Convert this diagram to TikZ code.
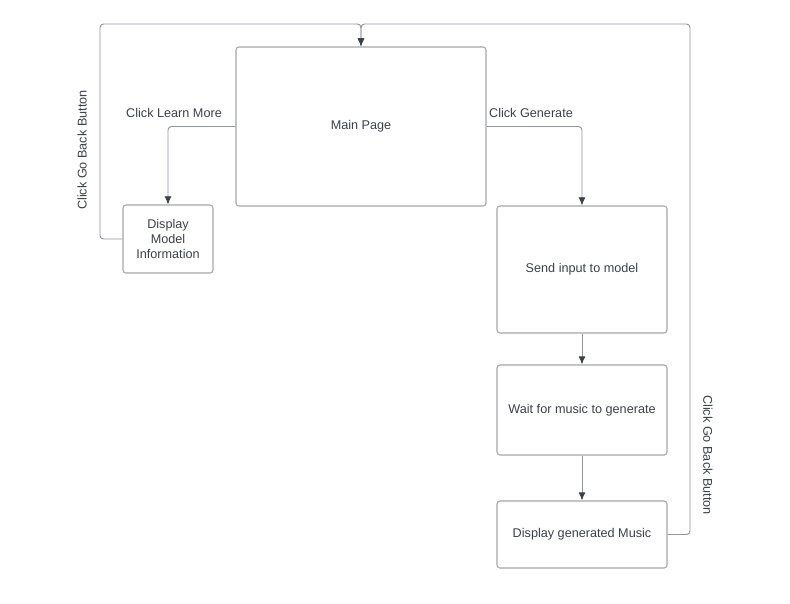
\documentclass[tikz,border=0pt]{standalone}
\usepackage{fontspec}
\setmainfont{Liberation Sans}
\usetikzlibrary{arrows.meta}
\definecolor{ink}{HTML}{3A404B}
\definecolor{edge}{HTML}{A3A6AB}
\definecolor{wire}{HTML}{8F949B}
\definecolor{tip}{HTML}{3A404B}
\tikzset{
  box/.style={draw=edge, line width=0.9pt, rounded corners=2.5pt, text=ink, align=center, font=\fontsize{10.8}{12.9}\selectfont},
  conn/.style={draw=wire, line width=0.8pt, rounded corners=3pt, -{Latex[length=7pt,width=6pt,color=tip]}},
  lab/.style={text=ink, font=\fontsize{10.8}{12.9}\selectfont},
}

\begin{document}
\begin{tikzpicture}[x=0.03cm, y=-0.03cm]
  \useasboundingbox (0,0) rectangle (790,603);
  % boxes
  \node[box, minimum width=7.5cm, minimum height=4.77cm] (main) at (361,126.5) {Main Page};
  \node[box, minimum width=2.7cm, minimum height=2.04cm] (info) at (168,239) {Display\\Model\\Information};
  \node[box, minimum width=5.1cm, minimum height=3.81cm] (send) at (582,269.5) {Send input to model};
  \node[box, minimum width=5.1cm, minimum height=2.7cm] (wait) at (582,410) {Wait for music to generate};
  \node[box, minimum width=5.1cm, minimum height=2.01cm] (music) at (582,534.5) {Display generated Music};
  % corners of the back loops
  \coordinate (backL) at (100,24);
  \coordinate (backR) at (690,24);
  % connectors
  \draw[conn] (main.west) -| (info.north);
  \draw[conn] (main.east) -| (send.north);
  \draw[conn] (send.south) -- (wait.north);
  \draw[conn] (wait.south) -- (music.north);
  \draw[conn] (info.west) -| (backL) -| (main.north);
  \draw[conn] (music.east) -| (backR) -| (main.north);
  % labels
  \node[lab] (lmore) at (174,113) {Click Learn More};
  \node[lab] (lgen) at (531,113) {Click Generate};
  \node[lab, rotate=90] (lbackL) at (82,150) {Click Go Back Button};
  \node[lab, rotate=-90] (lbackR) at (708,455) {Click Go Back Button};
\end{tikzpicture}
\end{document}
